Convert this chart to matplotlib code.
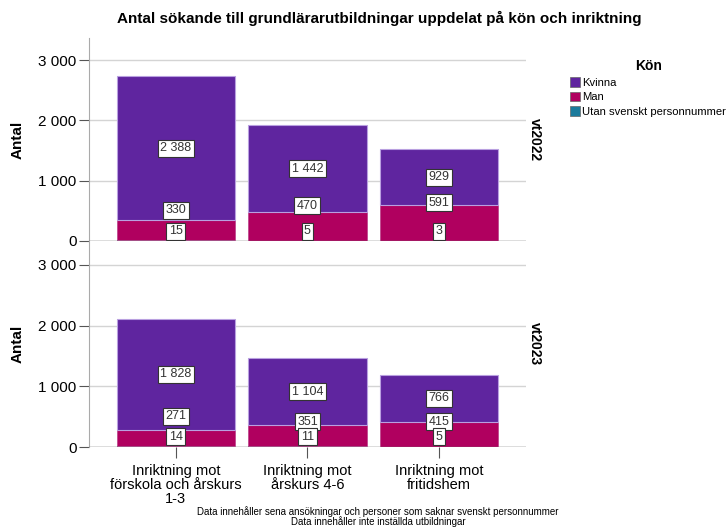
import matplotlib.pyplot as plt
import numpy as np

# data
categories = ['Inriktning mot\nförskola och årskurs\n1-3', 'Inriktning mot\nårskurs 4-6', 'Inriktning mot\nfritidshem']
terms = ['vt2022', 'vt2023']
utan = [[15, 5, 3], [14, 11, 5]]
man = [[330, 470, 591], [271, 351, 415]]
kvinna = [[2388, 1442, 929], [1828, 1104, 766]]
series = ['Kvinna', 'Man', 'Utan svenskt personnummer']
colors = {'Kvinna': '#5f259f', 'Man': '#b0005f', 'Utan svenskt personnummer': '#1b7b9c'}

# label heights (SPSS pushes them apart)
man_label_y = [[510, 580, 630], [510, 415, 415]]
utan_label_y = [165, 165]

narrow = ['Liberation Sans Narrow', 'Liberation Sans', 'DejaVu Sans']
plt.rcParams['font.family'] = ['Liberation Sans', 'DejaVu Sans']

fig = plt.figure(figsize=(7.27, 5.28), dpi=100)
ax_top = fig.add_axes([0.1224, 0.5436, 0.601, 0.3845])
ax_bot = fig.add_axes([0.1224, 0.1534, 0.601, 0.3902])
axes = [ax_top, ax_bot]
ylims = [3366, 3394]

x = np.arange(len(categories))
fmt = lambda v: f'{v:,}'.replace(',', ' ')
box = dict(boxstyle='square,pad=0.2', fc='white', ec='#333333', lw=0.8)

for i, ax in enumerate(axes):
    u = np.array(utan[i]); m = np.array(man[i]); k = np.array(kvinna[i])
    ax.bar(x, u, 0.9, color=colors['Utan svenskt personnummer'], zorder=2)
    ax.bar(x, m, 0.9, bottom=u, color=colors['Man'], edgecolor='#c04a90', lw=0.6, zorder=2)
    ax.bar(x, k, 0.9, bottom=u + m, color=colors['Kvinna'], edgecolor='#b9a0e0', lw=0.8, zorder=2)
    for j in range(len(x)):
        ax.text(x[j], u[j] + m[j] + k[j] / 2, fmt(k[j]), ha='center', va='center',
                fontsize=9, color='#333333', bbox=box, zorder=4)
        ax.text(x[j], man_label_y[i][j], fmt(m[j]), ha='center', va='center',
                fontsize=9, color='#333333', bbox=box, zorder=4)
        ax.text(x[j], utan_label_y[i], fmt(u[j]), ha='center', va='center',
                fontsize=9, color='#333333', bbox=box, zorder=4)
    ax.set_xlim(-0.66, 2.66)
    ax.set_ylim(0, ylims[i])
    ax.set_yticks([0, 1000, 2000, 3000])
    ax.set_yticklabels([fmt(v) for v in [0, 1000, 2000, 3000]], fontsize=11)
    ax.grid(axis='y', color='#d4d4d4', lw=1, zorder=0)
    ax.axhline(0, color='#777777', lw=1, zorder=3)
    for s in ['top', 'right']:
        ax.spines[s].set_visible(False)
    ax.spines['bottom'].set_visible(False)
    ax.spines['left'].set_color('#aaaaaa')
    ax.tick_params(axis='y', length=7, color='#555555', pad=2)
    ax.set_ylabel('Antal', fontsize=11, fontweight='bold', labelpad=10)
    ax.text(1.02, 0.5, terms[i], transform=ax.transAxes, rotation=-90, ha='center',
            va='center', fontsize=10, fontweight='bold')

ax_top.set_xticks([])
ax_bot.set_xticks(x)
ax_bot.set_xticklabels(categories, fontsize=10.5, family=narrow, linespacing=1.0)
ax_bot.tick_params(axis='x', length=8, color='#555555', pad=4)

fig.text(0.521, 0.965, 'Antal sökande till grundlärarutbildningar uppdelat på kön och inriktning',
         ha='center', va='center', fontsize=11, fontweight='bold', family=narrow)
fig.text(0.52, 0.022, 'Data innehåller sena ansökningar och personer som saknar svenskt personnummer\n'
         'Data innehåller inte inställda utbildningar', ha='center', va='center',
         fontsize=7, family=narrow, linespacing=0.85)

handles = [plt.Rectangle((0, 0), 1, 1, fc=colors[s], ec='#666666', lw=0.5) for s in series]
leg = fig.legend(handles, series, title='Kön', loc='upper left', bbox_to_anchor=(0.778, 0.896),
                 frameon=False, fontsize=8.1, handlelength=0.9, handleheight=0.9,
                 handletextpad=0.2, labelspacing=0.35, borderaxespad=0)
leg.get_title().set_fontweight('bold')
leg.get_title().set_fontsize(10)

fig.savefig('out.png', dpi=100)
